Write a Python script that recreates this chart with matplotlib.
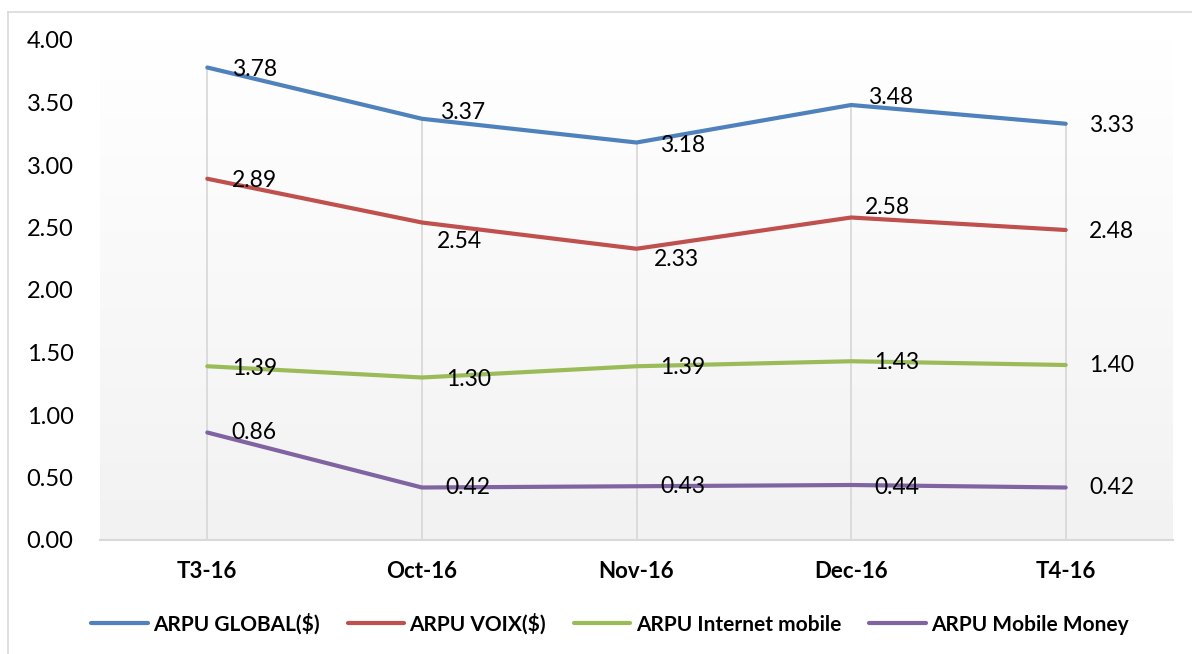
import matplotlib
matplotlib.use('Agg')
import matplotlib.pyplot as plt
from matplotlib.lines import Line2D
import numpy as np

# ---- data ----
categories = ['T3-16', 'Oct-16', 'Nov-16', 'Dec-16', 'T4-16']
arpu_global = [3.78, 3.37, 3.18, 3.48, 3.33]
arpu_voix = [2.89, 2.54, 2.33, 2.58, 2.48]
arpu_internet = [1.39, 1.30, 1.39, 1.43, 1.40]
arpu_mobile_money = [0.86, 0.42, 0.43, 0.44, 0.42]
series_names = ['ARPU GLOBAL($)', 'ARPU VOIX($)', 'ARPU Internet mobile', 'ARPU Mobile Money']
y_ticks = [0.0, 0.5, 1.0, 1.5, 2.0, 2.5, 3.0, 3.5, 4.0]

# ---- styles ----
colors = ['#4F81BD', '#C0504D', '#9BBB59', '#8064A2']
# label offsets (pixels): dx to the right, dy upward
label_dx = [[47, 41, 46, 39, 46],
            [47, 38, 40, 36, 46],
            [47, 47, 46, 46, 46],
            [47, 46, 46, 46, 46]]
label_dy = [[-2.5, 6, -2.5, 8, -2],
            [-2, -19.5, -11, 9.5, -2],
            [-2, -1.5, -1, -1, -1],
            [0, 0, 0, -2, 0]]

plt.rcParams['font.family'] = ['Lato', 'DejaVu Sans']

W, H = 1192, 654
fig = plt.figure(figsize=(W / 100, H / 100), dpi=100)
ax = fig.add_axes([100 / W, 114 / H, 1073 / W, 500 / H])

x = np.arange(len(categories))
ax.set_xlim(-0.5, len(categories) - 0.5)
ax.set_ylim(0, 4)

# gradient plot-area background
n = 256
t = np.linspace(0, 1, n)[:, None]
top = np.array([1.0, 1.0, 1.0])
bot = np.array([0.949, 0.949, 0.949])
grad = (top * (1 - t) + bot * t)[:, None, :].repeat(2, axis=1)
ax.imshow(grad, extent=[0, 1, 0, 1], transform=ax.transAxes, aspect='auto',
          zorder=0, interpolation='bilinear')

all_series = [arpu_global, arpu_voix, arpu_internet, arpu_mobile_money]

# drop lines
maxima = np.max(np.array(all_series), axis=0)
ax.vlines(x, 0, maxima, color='#d9d9d9', lw=1.3, zorder=1)

lines = []
for i, s in enumerate(all_series):
    ln, = ax.plot(x, s, color=colors[i], lw=3.0, solid_capstyle='round',
                  solid_joinstyle='round', zorder=3, label=series_names[i])
    lines.append(ln)
    for j, v in enumerate(s):
        ax.annotate(f'{v:.2f}', (x[j], v), xytext=(label_dx[i][j], label_dy[i][j]),
                    textcoords='offset pixels', ha='center', va='center',
                    fontsize=16.5, color='black', zorder=4)

for sp in ['top', 'left', 'right']:
    ax.spines[sp].set_visible(False)
ax.spines['bottom'].set_color('#d9d9d9')
ax.spines['bottom'].set_linewidth(1.5)

ax.set_xticks(x)
ax.set_xticklabels(categories, fontsize=16, fontweight='bold')
ax.set_yticks(y_ticks)
ax.set_yticklabels([f'{v:.2f}' for v in y_ticks], fontsize=17)
ax.tick_params(axis='x', length=0, pad=15)
ax.tick_params(axis='y', length=0, pad=19)

fig.legend(handles=lines, loc='center', bbox_to_anchor=(610 / W, 1 - 624 / H),
           ncol=4, frameon=False, prop={'weight': 'bold', 'size': 15},
           handlelength=2.7, handletextpad=0.26, columnspacing=1.35)

# outer chart border (left and top visible)
fig.add_artist(Line2D([8 / W, 8 / W], [0, 1 - 12 / H], transform=fig.transFigure,
                      color='#d9d9d9', lw=1.2))
fig.add_artist(Line2D([8 / W, 1], [1 - 12 / H, 1 - 12 / H], transform=fig.transFigure,
                      color='#d9d9d9', lw=1.2))

fig.savefig('out.png', dpi=100, facecolor='white')
